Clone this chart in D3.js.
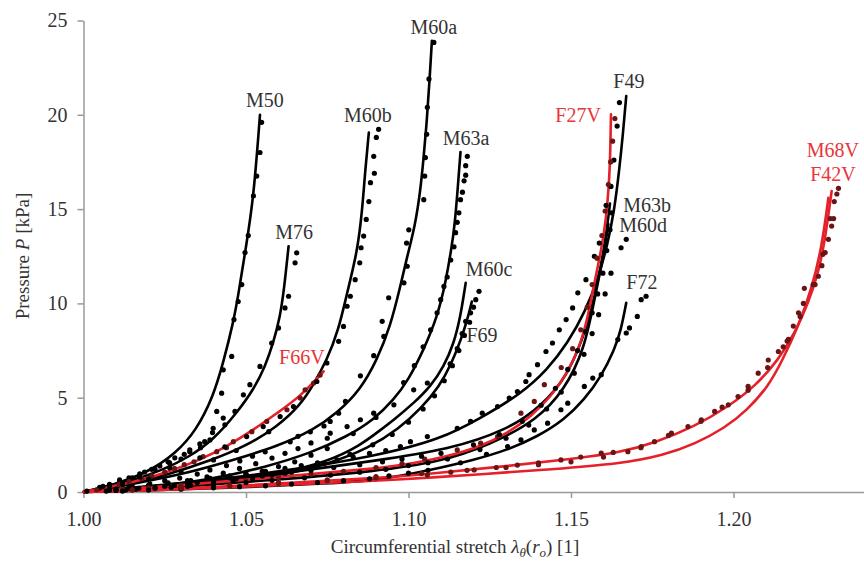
<html>
<head>
  <style>
    body { margin: 0; background: #fff; }

    svg text {
      font-family: "Liberation Serif", "DejaVu Serif", serif;
    }

    svg .domain,
    svg .tick line {
      stroke: #999;
      stroke-width: 1.5px;
    }

    svg .tick text {
      font-size: 20px;
      fill: #333;
    }

    svg .fit {
      fill: none;
      stroke-width: 2.6px;
      stroke-linecap: round;
    }

    svg .label { font-size: 20px; }

    svg .title {
      font-size: 19px;
      fill: #333;
    }
  </style>
</head>

<body>
  <div id="pressure-stretch"></div>
  <script src="https://cdn.jsdelivr.net/npm/d3@7"></script>
  <script>
    // ---- data: [stretch, pressure kPa] ----
    var xTicks = [1.00, 1.05, 1.10, 1.15, 1.20];
    var yTicks = [0, 5, 10, 15, 20, 25];

    var names = ["M50", "M76", "F66V", "M60b", "M60a", "M63a", "M60c", "F69",
                 "F49", "F27V", "M63b", "M60d", "F72", "M68V", "F42V"];
    var redNames = ["F66V", "F27V", "M68V", "F42V"];

    // where each name is written, in data units
    var labelAt = [[1.0558, 20.4], [1.0648, 13.4], [1.0672, 6.8], [1.0875, 19.6], [1.1078, 24.3],
                   [1.1177, 18.4], [1.1248, 11.45], [1.1226, 7.95], [1.1678, 21.4], [1.1522, 19.6],
                   [1.1734, 14.85], [1.1722, 13.8], [1.1718, 10.76], [1.2306, 17.76], [1.2306, 16.49]];

    // fitted curves
    var fitM50 = [[1.000,0],[1.009,0.37],[1.0194,1.0],[1.0286,2.07],[1.0348,3.3],[1.0399,5.06],[1.043,6.85],
                  [1.0461,9.0],[1.0476,10.4],[1.0499,12.9],[1.0523,15.5],[1.0543,20.0]];
    var fitM76 = [[1.000,0],[1.0049,0.2],[1.0142,0.55],[1.0245,1.17],[1.0327,1.88],[1.0399,2.76],[1.0471,4.18],
                  [1.0523,5.42],[1.0559,6.66],[1.0584,7.9],[1.0605,9.31],[1.0617,10.73],[1.0631,13.03]];
    var fitF66V = [[1.000,0],[1.006,0.2],[1.0163,0.55],[1.0265,1.08],[1.0358,1.7],[1.044,2.41],[1.0523,3.29],
                   [1.0595,4.18],[1.0667,5.06],[1.0739,6.39]];
    var fitM60b = [[1.000,0],[1.0132,0.35],[1.0265,0.95],[1.0389,1.65],[1.0502,2.45],[1.0595,3.45],[1.0667,4.6],
                   [1.0708,5.7],[1.0749,7.0],[1.0785,8.6],[1.0811,10.56],[1.0842,12.7],[1.0857,14.8],[1.0867,17.1],
                   [1.0878,19.06]];
    var fitM60a = [[1.000,0],[1.0163,0.46],[1.0317,0.99],[1.0461,1.7],[1.0595,2.41],[1.0708,3.29],[1.078,4.18],
                   [1.0852,5.42],[1.0903,7.0],[1.0944,8.78],[1.0975,10.9],[1.0996,12.5],[1.102,14.1],[1.1036,15.9],
                   [1.1046,17.6],[1.1057,19.8],[1.1065,21.9],[1.1072,23.93]];
    var fitM63a = [[1.000,0],[1.0183,0.2],[1.0389,0.64],[1.0564,1.34],[1.0698,2.06],[1.0811,2.94],[1.0893,3.83],
                   [1.0955,4.9],[1.1,5.95],[1.1047,7.55],[1.1089,9.31],[1.1114,11.09],[1.1132,12.9],[1.1142,14.1],
                   [1.1152,16.2],[1.116,18.03]];
    var fitM60c = [[1.000,0],[1.02,0.15],[1.04,0.45],[1.06,0.95],[1.075,1.6],[1.085,2.45],[1.0914,3.29],
                   [1.0955,3.83],[1.1016,4.71],[1.1068,5.6],[1.1109,6.66],[1.114,7.9],[1.116,9.31],[1.1176,11.09]];
    var fitF69 = [[1.000,0],[1.02,0.13],[1.04,0.4],[1.06,0.85],[1.075,1.45],[1.088,2.35],[1.097,3.35],
                  [1.104,4.45],[1.1095,5.6],[1.1132,6.8],[1.1162,8.1],[1.1182,9.2],[1.1195,10.1]];
    var fitF49 = [[1.000,0],[1.03,0.45],[1.06,1.05],[1.09,1.9],[1.11,2.8],[1.122,3.9],[1.1346,5.2],[1.1428,6.5],
                  [1.149,7.9],[1.1545,9.6],[1.1585,11.4],[1.1612,13.1],[1.1633,14.9],[1.1648,17.0],[1.166,19.0],
                  [1.167,21.0]];
    var fitF27V = [[1.000,0],[1.03,0.35],[1.06,0.8],[1.0914,1.26],[1.1016,1.52],[1.1119,1.88],[1.1222,2.41],
                   [1.1305,3.12],[1.1377,4.0],[1.1438,5.06],[1.149,6.31],[1.1531,7.9],[1.1552,9.31],[1.1572,11.09],
                   [1.1595,13.0],[1.1608,14.5],[1.1617,16.3],[1.1621,18.0],[1.1623,20.03]];
    var fitM63b = [[1.000,0],[1.03,0.4],[1.06,0.95],[1.0914,1.7],[1.1119,2.23],[1.1305,3.29],[1.1407,4.53],
                   [1.149,6.13],[1.1551,8.78],[1.1582,11.09],[1.1605,13.2],[1.162,15.3]];
    var fitM60d = [[1.000,0],[1.03,0.28],[1.06,0.65],[1.09,1.1],[1.11,1.6],[1.125,2.5],[1.1397,3.83],[1.148,5.42],
                   [1.1541,7.55],[1.1572,10.2],[1.16,12.5],[1.1615,14.2]];
    var fitF72 = [[1.000,0],[1.02,0.08],[1.05,0.25],[1.0751,0.45],[1.0914,0.64],[1.1068,1.17],[1.1202,1.7],
                  [1.1305,2.23],[1.1397,2.94],[1.1479,3.83],[1.1541,4.89],[1.1593,6.13],[1.1634,7.55],[1.1654,8.6],
                  [1.167,10.03]];
    var fitM68V = [[1.000,0],[1.02,0.1],[1.05,0.35],[1.075,0.6],[1.0975,0.82],[1.1078,0.99],[1.1284,1.34],
                   [1.149,1.72],[1.1654,2.1],[1.1757,2.6],[1.1881,3.47],[1.1984,4.53],[1.2066,5.6],[1.2138,7.0],
                   [1.2189,8.43],[1.223,10.03],[1.2261,11.6],[1.2282,13.4],[1.2302,15.96]];
    var fitF42V = [[1.000,0],[1.02,0.08],[1.05,0.28],[1.075,0.48],[1.0975,0.66],[1.1232,0.95],[1.1438,1.2],
                   [1.1654,1.5],[1.1785,1.95],[1.1882,2.55],[1.1973,3.4],[1.204,4.3],[1.2107,5.6],[1.2148,6.9],
                   [1.22,8.8],[1.2241,10.8],[1.2272,13.0],[1.2292,15.6]];

    // measured points
    var ptsM50 = [[1.0548,19.6],[1.0543,18.0],[1.0533,16.75],[1.0523,15.7],[1.0507,13.6],[1.0497,12.7],[1.0487,11.0],
                  [1.0476,10.1],[1.0463,9.14],[1.0456,7.19],[1.043,6.48],[1.0425,5.24],[1.041,4.27],[1.043,3.92],
                  [1.0399,3.38],[1.0397,3.15],[1.0373,2.67],[1.0358,2.55],[1.0327,2.23],[1.0281,1.81],[1.0235,1.38],
                  [1.0173,0.96],[1.0111,0.53],[1.0049,0.21],[1.001,0.05],[1.006,0.3],[1.014,0.75],[1.021,1.2],
                  [1.026,1.6],[1.031,2.0]];
    var ptsM76 = [[1.0656,12.68],[1.0651,12.15],[1.0631,10.38],[1.062,9.76],[1.06,8.7],[1.0579,7.9],[1.0543,6.66],
                  [1.0512,5.69],[1.0492,5.15],[1.0466,4.27],[1.0435,3.56],[1.0389,2.76],[1.0327,2.13],[1.0265,1.54],
                  [1.0188,1.06],[1.0111,0.64],[1.005,0.25],[1.008,0.4],[1.015,0.75],[1.022,1.2],[1.03,1.75],
                  [1.036,2.35]];
    var ptsF66V = [[1.0728,6.2],[1.0708,5.78],[1.0682,5.42],[1.0667,4.98],[1.0626,4.36],[1.0564,3.74],[1.0518,3.2],
                   [1.0461,2.67],[1.041,2.14],[1.0368,1.88],[1.031,1.45],[1.025,1.05],[1.018,0.7],[1.011,0.4],
                   [1.004,0.12],[1.008,0.3],[1.014,0.55],[1.021,0.85],[1.028,1.25],[1.034,1.6],[1.044,2.35]];
    var ptsM60b = [[1.0908,19.23],[1.0901,18.8],[1.0893,17.8],[1.0895,16.9],[1.0883,16.4],[1.0878,15.4],[1.087,14.45],
                   [1.0862,13.57],[1.0854,12.95],[1.085,12.15],[1.0836,11.26],[1.0821,10.38],[1.0811,9.85],[1.08,8.78],
                   [1.0785,7.99],[1.0749,6.84],[1.0718,5.86],[1.0646,4.53],[1.0605,4.0],[1.0553,3.47],[1.0502,2.94],
                   [1.0435,2.39],[1.0358,1.81],[1.0265,1.28],[1.0173,0.8],[1.008,0.35],[1.012,0.45],[1.02,0.7],
                   [1.03,1.1],[1.04,1.7],[1.047,2.2],[1.057,3.2]];
    var ptsM60a = [[1.1078,23.84],[1.1063,21.9],[1.1058,20.4],[1.1056,18.97],[1.1052,17.73],[1.105,16.75],[1.1047,15.5],
                   [1.1001,13.9],[1.0994,13.2],[1.0996,11.97],[1.0986,11.09],[1.0939,10.3],[1.0919,9.05],[1.0924,8.25],
                   [1.0893,7.23],[1.0852,6.16],[1.0806,4.8],[1.0785,4.18],[1.0759,3.74],[1.0698,3.19],[1.0636,2.66],
                   [1.0559,2.13],[1.0481,1.65],[1.0389,1.17],[1.0296,0.74],[1.0204,0.43],[1.01,0.15],[1.015,0.3],
                   [1.025,0.6],[1.035,0.95],[1.044,1.4],[1.052,1.9],[1.066,2.95],[1.074,3.5]];
    var ptsM63a = [[1.1181,17.8],[1.1176,17.3],[1.1176,16.8],[1.1171,16.5],[1.1166,15.9],[1.116,15.5],[1.1155,14.8],
                   [1.115,14.3],[1.1145,13.75],[1.114,13.0],[1.113,12.3],[1.1119,11.4],[1.1109,10.9],[1.1099,10.2],
                   [1.1088,9.5],[1.1068,8.6],[1.1045,7.7],[1.1018,6.7],[1.0985,5.8],[1.0893,4.18],[1.0852,3.83],
                   [1.0811,3.47],[1.0759,3.12],[1.07,2.6],[1.062,2.05],[1.053,1.5],[1.043,1.0],[1.032,0.6],
                   [1.02,0.3],[1.008,0.1],[1.014,0.2],[1.026,0.45],[1.038,0.8],[1.048,1.25],[1.058,1.8],
                   [1.066,2.3],[1.075,2.85]];
    var ptsM60c = [[1.1217,10.64],[1.1207,10.2],[1.1191,9.5],[1.1176,9.05],[1.1165,8.4],[1.115,7.6],[1.1128,6.8],
                   [1.1058,5.78],[1.1016,5.42],[1.0955,4.62],[1.09,3.95],[1.083,3.1],[1.075,2.3],[1.065,1.6],
                   [1.055,1.1],[1.045,0.75],[1.035,0.5],[1.022,0.25],[1.01,0.08],[1.016,0.15],[1.028,0.35],
                   [1.04,0.6],[1.05,0.95],[1.06,1.35],[1.07,1.95]];
    var ptsF69 = [[1.12,9.8],[1.1188,9.0],[1.1172,8.3],[1.1155,7.5],[1.1135,6.7],[1.111,5.9],[1.108,5.1],
                  [1.1045,4.4],[1.1,3.7],[1.095,3.05],[1.089,2.5],[1.082,2.0],[1.074,1.5],[1.064,1.05],[1.052,0.7],
                  [1.04,0.45],[1.027,0.25],[1.013,0.1],[1.007,0.05],[1.02,0.18],[1.033,0.35],[1.046,0.6],
                  [1.058,0.9],[1.069,1.25]];
    var ptsF49 = [[1.1649,20.65],[1.1642,19.4],[1.1632,17.6],[1.1623,16.2],[1.1608,15.2],[1.1587,13.2],[1.1572,12.5],
                  [1.1546,11.26],[1.1521,10.56],[1.1505,9.76],[1.1485,9.14],[1.1464,8.6],[1.1443,7.9],[1.1423,7.45],
                  [1.1397,6.75],[1.1371,6.22],[1.1361,5.86],[1.1335,5.33],[1.131,4.98],[1.1274,4.53],[1.1227,4.18],
                  [1.1191,3.74],[1.115,3.38],[1.1058,2.94],[1.1006,2.67],[1.0975,2.41],[1.088,2.05],[1.078,1.7],
                  [1.067,1.4],[1.056,1.1],[1.045,0.85],[1.033,0.6],[1.02,0.35],[1.008,0.12],[1.014,0.25],
                  [1.026,0.48],[1.039,0.72],[1.05,0.95],[1.062,1.25],[1.072,1.55],[1.083,1.85],[1.093,2.2]];
    var ptsF27V = [[1.1635,19.8],[1.1628,18.6],[1.1622,17.5],[1.1615,16.3],[1.1605,14.9],[1.1595,13.6],[1.158,12.4],
                   [1.1565,11.0],[1.155,9.8],[1.153,8.6],[1.1505,7.6],[1.147,6.6],[1.1418,5.69],[1.1387,4.8],
                   [1.1346,4.18],[1.1274,2.94],[1.1222,2.59],[1.115,2.23],[1.105,1.75],[1.09,1.3],[1.07,0.95],
                   [1.05,0.6],[1.03,0.35],[1.012,0.12],[1.02,0.22],[1.04,0.45],[1.06,0.75],[1.08,1.1],[1.098,1.5]];
    var ptsM63b = [[1.1625,14.8],[1.162,13.9],[1.161,12.8],[1.1598,11.6],[1.1582,10.5],[1.1565,9.5],[1.1545,8.5],
                   [1.152,7.5],[1.149,6.5],[1.1452,5.5],[1.1408,4.6],[1.135,3.75],[1.128,3.05],[1.12,2.5],[1.11,2.05],
                   [1.098,1.75],[1.085,1.45],[1.07,1.15],[1.055,0.85],[1.04,0.55],[1.025,0.3],[1.01,0.1],
                   [1.017,0.2],[1.032,0.42],[1.047,0.7],[1.062,1.0],[1.077,1.3],[1.092,1.6],[1.104,1.9]];
    var ptsM60d = [[1.167,13.4],[1.1654,12.95],[1.1623,11.6],[1.1605,10.5],[1.1585,9.4],[1.1565,8.4],[1.154,7.3],
                   [1.151,6.3],[1.147,5.3],[1.1425,4.4],[1.137,3.55],[1.13,2.85],[1.122,2.25],[1.112,1.75],[1.1,1.4],
                   [1.085,1.05],[1.068,0.75],[1.05,0.5],[1.032,0.3],[1.015,0.12],[1.022,0.2],[1.04,0.4],
                   [1.058,0.62],[1.076,0.9],[1.093,1.2],[1.106,1.55]];
    var ptsF72 = [[1.1731,10.38],[1.1716,10.2],[1.1704,9.31],[1.168,8.7],[1.167,8.43],[1.1644,8.08],[1.1593,6.22],
                  [1.1567,6.04],[1.1541,5.6],[1.149,4.71],[1.1469,4.36],[1.1428,3.65],[1.1387,3.29],[1.1346,2.76],
                  [1.1305,2.41],[1.124,2.0],[1.116,1.55],[1.106,1.15],[1.094,0.85],[1.08,0.6],[1.064,0.42],
                  [1.048,0.28],[1.03,0.15],[1.012,0.05],[1.02,0.1],[1.04,0.22],[1.056,0.33],[1.072,0.5],
                  [1.088,0.7],[1.1,1.0]];
    var ptsM68V = [[1.2323,16.1],[1.2318,15.8],[1.2308,14.5],[1.2302,14.1],[1.2292,13.4],[1.2282,12.7],[1.2272,12.0],
                   [1.2261,11.44],[1.2251,11.0],[1.2218,10.8],[1.2215,10.0],[1.22,9.5],[1.2184,8.8],[1.2169,8.1],
                   [1.2153,7.7],[1.2138,7.45],[1.2107,7.0],[1.2076,6.3],[1.2045,5.6],[1.2014,5.06],[1.1984,4.62],
                   [1.1942,4.27],[1.1901,3.83],[1.186,3.47],[1.1809,3.12],[1.1757,2.67],[1.1716,2.41],[1.1675,2.14],
                   [1.1593,2.06],[1.1469,1.7],[1.1335,1.43],[1.1202,1.17],[1.1058,0.9],[1.09,0.75],[1.075,0.6],
                   [1.06,0.45],[1.045,0.33],[1.03,0.2],[1.015,0.1],[1.113,1.05],[1.127,1.3],[1.14,1.55],
                   [1.153,1.85],[1.163,2.1]];
    var ptsF42V = [[1.231,15.4],[1.2298,14.5],[1.2275,12.6],[1.2245,11.0],[1.2205,9.3],[1.2165,8.0],[1.2105,6.6],
                   [1.2045,5.4],[1.1965,4.5],[1.19,3.75],[1.18,3.0],[1.1715,2.35],[1.16,1.85],[1.15,1.6],[1.14,1.45],
                   [1.13,1.3],[1.118,1.15],[1.104,0.98],[1.09,0.82],[1.075,0.65],[1.06,0.5],[1.045,0.36],
                   [1.03,0.24],[1.015,0.12]];

    var fits = [fitM50, fitM76, fitF66V, fitM60b, fitM60a, fitM63a, fitM60c, fitF69,
                fitF49, fitF27V, fitM63b, fitM60d, fitF72, fitM68V, fitF42V];
    var points = [ptsM50, ptsM76, ptsF66V, ptsM60b, ptsM60a, ptsM63a, ptsM60c, ptsF69,
                  ptsF49, ptsF27V, ptsM63b, ptsM60d, ptsF72, ptsM68V, ptsF42V];

    var series = names.map(function (n, i) {
      return { name: n, fit: fits[i], pts: points[i], label: labelAt[i], red: redNames.indexOf(n) >= 0 };
    });

    // ---- layout ----
    var width = 864, height = 561;
    var redLine = "#e5202a", redDot = "#6a1414", redText = "#e8353a";

    var svg = d3.select("#pressure-stretch")
      .append("svg")
        .attr("width", width)
        .attr("height", height);

    var xScale = d3.scaleLinear().domain([1.00, 1.24]).range([83.5, 863.5]);
    var yScale = d3.scaleLinear().domain([0, 25]).range([492, 20.5]);

    // x axis
    svg.append("g")
        .attr("transform", "translate(0," + yScale(0) + ")")
        .call(d3.axisBottom(xScale)
          .tickValues(xTicks)
          .tickFormat(d3.format(".2f"))
          .tickSizeInner(6)
          .tickSizeOuter(0)
          .tickPadding(14));

    // y axis
    svg.append("g")
        .attr("transform", "translate(" + xScale(1.00) + ",0)")
        .call(d3.axisLeft(yScale)
          .tickValues(yTicks)
          .tickSizeInner(6)
          .tickSizeOuter(0)
          .tickPadding(10));

    // fitted curves, black first so red sits on top
    var line = d3.line()
      .curve(d3.curveBasis)
      .x(function (d) { return xScale(d[0]); })
      .y(function (d) { return yScale(d[1]); });

    var ordered = series.filter(function (s) { return !s.red; })
      .concat(series.filter(function (s) { return s.red; }));

    svg.append("g").selectAll("path")
      .data(ordered)
      .enter().append("path")
        .classed("fit", true)
        .attr("d", function (s) { return line(s.fit); })
        .style("stroke", function (s) { return s.red ? redLine : "#000"; });

    // measured points
    series.forEach(function (s) {
      svg.append("g").selectAll("circle")
        .data(s.pts)
        .enter().append("circle")
          .attr("cx", function (d) { return xScale(d[0]); })
          .attr("cy", function (d) { return yScale(d[1]); })
          .attr("r", 2.6)
          .style("fill", s.red ? redDot : "#000");
    });

    // specimen names
    svg.append("g").selectAll("text")
      .data(series)
      .enter().append("text")
        .classed("label", true)
        .attr("x", function (s) { return xScale(s.label[0]); })
        .attr("y", function (s) { return yScale(s.label[1]); })
        .attr("text-anchor", "middle")
        .style("fill", function (s) { return s.red ? redText : "#333"; })
        .text(function (s) { return s.name; });

    // axis titles
    var yt = svg.append("text")
        .classed("title", true)
        .attr("transform", "translate(29," + 256 + ") rotate(-90)")
        .attr("text-anchor", "middle");
    yt.append("tspan").text("Pressure ");
    yt.append("tspan").style("font-style", "italic").text("P");
    yt.append("tspan").text(" [kPa]");

    var xt = svg.append("text")
        .classed("title", true)
        .attr("x", 455)
        .attr("y", 553)
        .attr("text-anchor", "middle");
    xt.append("tspan").text("Circumferential stretch ");
    xt.append("tspan").style("font-style", "italic").text("λ");
    xt.append("tspan").style("font-style", "italic").style("font-size", "13px").attr("dy", 4).text("θ");
    xt.append("tspan").attr("dy", -4).text("(");
    xt.append("tspan").style("font-style", "italic").text("r");
    xt.append("tspan").style("font-style", "italic").style("font-size", "13px").attr("dy", 4).text("o");
    xt.append("tspan").attr("dy", -4).text(") [1]");
  </script>
</body>
</html>
